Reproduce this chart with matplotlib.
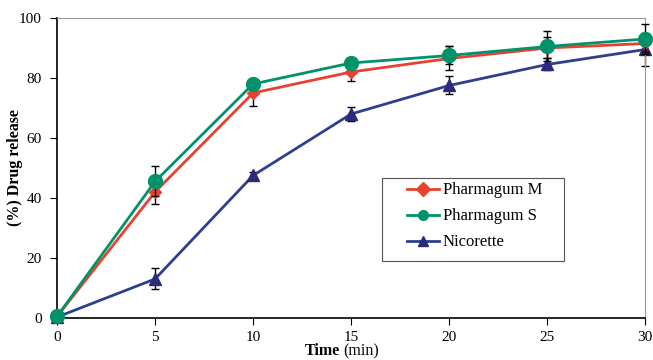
import numpy as np
import matplotlib
matplotlib.use('Agg')
import matplotlib.pyplot as plt
from matplotlib.patches import Rectangle

time = np.array([0, 5, 10, 15, 20, 25, 30])  # [min]

pharm_m = np.array([0.5, 42.0, 75.0, 82.0, 86.5, 90.0, 91.5])
pharm_m_err = np.array([0.0, 4.0, 4.5, 3.0, 4.0, 3.5, 3.0])
pharm_s = np.array([0.5, 45.5, 78.0, 85.0, 87.5, 90.5, 93.0])
pharm_s_err = np.array([0.0, 5.0, 1.0, 1.5, 3.0, 5.0, 5.0])
nicorette = np.array([0.3, 13.0, 47.5, 68.0, 77.5, 84.5, 89.5])
nicorette_err = np.array([0.0, 3.5, 1.0, 2.3, 3.0, 2.0, 5.5])

plt.rcParams['font.family'] = ['Liberation Serif', 'DejaVu Serif']

fig = plt.figure(figsize=(6.53, 3.6), dpi=100)
ax = fig.add_axes([0.0873, 0.1167, 0.9007, 0.8333])

eb = dict(ecolor='black', elinewidth=1.0, capsize=3, capthick=1.0, clip_on=False)
ax.errorbar(time, nicorette, yerr=nicorette_err, color='#2f3f8f', lw=2,
            marker='^', ms=8, mfc='#2d2a7c', mec='#2d2a7c', label='Nicorette', zorder=2, **eb)
ax.errorbar(time, pharm_m, yerr=pharm_m_err, color='#e8412f', lw=2,
            marker='D', ms=6, mfc='#e8412f', mec='#e8412f', label='Pharmagum M', zorder=3, **eb)
ax.errorbar(time, pharm_s, yerr=pharm_s_err, color='#00936b', lw=2,
            marker='o', ms=10, mfc='#00936b', mec='#00936b', label='Pharmagum S', zorder=4, **eb)

ax.set_xlim(0, 30)
ax.set_ylim(0, 100)
ax.set_xticks(np.arange(0, 31, 5))
ax.set_yticks(np.arange(0, 101, 20))
ax.tick_params(direction='out', length=5, labelsize=11, colors='black', pad=6)
ax.tick_params(axis='x', pad=4.5)

for s in ['top', 'right']:
    ax.spines[s].set_color('#999999')
for s in ['left', 'bottom']:
    ax.spines[s].set_color('black')
    ax.spines[s].set_linewidth(1.2)

ax.set_ylabel('(%) Drug release', fontsize=11.5, fontweight='bold')
ax.yaxis.set_label_coords(-0.058, 0.5)

# x label: bold "Time" + regular "(min)"
fig.text(0.5207, 0.0135, 'Time', fontsize=11.5, fontweight='bold', ha='right', va='baseline')
fig.text(0.5253, 0.0135, '(min)', fontsize=11.5, ha='left', va='baseline')

# legend frame drawn separately
ax.add_patch(Rectangle((0.553, 0.19), 0.309, 0.277, transform=ax.transAxes,
                       facecolor='white', edgecolor='#555555', lw=0.8, zorder=5))
h, l = ax.get_legend_handles_labels()
order = [1, 2, 0]
leg = ax.legend([h[i][0] for i in order], [l[i] for i in order],
                loc='upper left', bbox_to_anchor=(0.595, 0.452),
                fontsize=12, frameon=False, handlelength=1.9, borderpad=0,
                borderaxespad=0, labelspacing=0.6, handletextpad=0.25)
leg.set_zorder(6)
for lh in leg.legend_handles:
    lh.set_markersize(7)

fig.savefig('out.png', dpi=100)
